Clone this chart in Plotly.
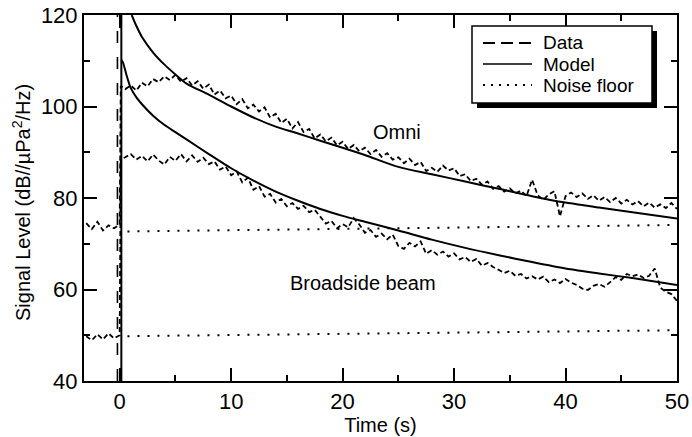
import plotly.graph_objects as go

# ---------------- data ----------------
data_t = [-3.0, -2.5, -2.0, -1.5, -1.0, -0.5, 0.0, 0.1,
          0.5, 1.0, 1.5, 2.0, 2.5, 3.0, 3.5, 4.0, 4.5, 5.0,
          5.5, 6.0, 6.5, 7.0, 7.5, 8.0, 8.5, 9.0, 9.5, 10.0,
          10.5, 11.0, 11.5, 12.0, 12.5, 13.0, 13.5, 14.0, 14.5, 15.0,
          15.5, 16.0, 16.5, 17.0, 17.5, 18.0, 18.5, 19.0, 19.5, 20.0,
          20.5, 21.0, 21.5, 22.0, 22.5, 23.0, 23.5, 24.0, 24.5, 25.0,
          25.5, 26.0, 26.5, 27.0, 27.5, 28.0, 28.5, 29.0, 29.5, 30.0,
          30.5, 31.0, 31.5, 32.0, 32.5, 33.0, 33.5, 34.0, 34.5, 35.0,
          35.5, 36.0, 36.5, 37.0, 37.5, 38.0, 38.5, 39.0, 39.5, 40.0,
          40.5, 41.0, 41.5, 42.0, 42.5, 43.0, 43.5, 44.0, 44.5, 45.0,
          45.5, 46.0, 46.5, 47.0, 47.5, 48.0, 48.5, 49.0, 49.5, 50.0]

omni_data = [74.5, 73.2, 74.8, 72.9, 74.0, 73.4, 74.2, 104.5,
             103.8, 104.6, 103.5, 105.2, 104.4, 106.0, 105.3, 106.6, 105.8, 106.9,
             105.4, 106.2, 104.6, 105.5, 103.9, 104.8, 102.6, 103.5, 101.8, 102.4,
             100.5, 101.6, 99.6, 100.4, 98.9, 99.8, 97.6, 98.4, 96.4, 97.3,
             95.2, 96.6, 94.4, 95.1, 93.0, 93.9, 92.4, 93.2, 91.5, 92.3,
             90.7, 91.6, 90.2, 91.0, 89.6, 90.5, 89.0, 89.8, 88.4, 88.9,
             87.6, 88.6, 87.2, 87.9, 85.9, 86.6, 85.7, 87.1, 86.0, 86.5,
             84.8, 85.2, 83.7, 84.2, 82.9, 83.6, 82.0, 82.6, 81.4, 82.1,
             81.0, 81.6, 80.4, 84.0, 80.6, 79.6, 80.8, 81.5, 76.0, 80.4,
             81.2, 80.2, 81.0, 79.8, 80.6, 79.4, 80.2, 79.1, 80.0, 78.8,
             79.6, 78.6, 79.3, 78.2, 79.0, 77.9, 78.6, 77.8, 78.9, 77.6]

broadside_data = [49.8, 48.9, 50.2, 49.1, 50.4, 49.3, 50.0, 88.5,
                  88.9, 89.6, 88.4, 89.2, 88.0, 89.5, 88.2, 87.3, 89.0, 88.1,
                  89.6, 88.0, 89.3, 87.9, 88.8, 87.4, 88.0, 86.2, 86.9, 85.0,
                  85.8, 83.4, 84.4, 81.8, 82.6, 80.3, 80.9, 79.0, 79.8, 78.2,
                  78.9, 77.6, 78.3, 76.9, 77.4, 75.8, 74.4, 75.0, 73.4, 74.3,
                  73.6, 75.6, 74.2, 72.4, 73.0, 71.5, 72.2, 71.0, 72.0, 69.5,
                  68.9, 70.2, 69.4, 70.5, 67.8, 68.6, 67.6, 68.3, 67.2, 67.9,
                  66.6, 67.1, 66.0, 66.7, 65.2, 65.8, 64.9, 64.3, 63.6, 64.1,
                  63.0, 63.4, 62.4, 62.9, 62.2, 62.8, 61.6, 62.2, 61.4, 62.3,
                  61.5, 61.0, 60.2, 59.9, 60.8, 61.2, 60.6, 61.6, 62.7, 62.1,
                  63.4, 62.9, 63.3, 62.5, 63.0, 64.6, 60.4, 59.5, 59.0, 57.5]

omni_model_t = [1.08, 1.5, 2, 3, 4, 5, 6, 8, 10, 12, 14, 16, 18, 20, 22,
                25, 28, 31, 34, 37, 40, 43, 46, 50]
omni_model = [120.0, 117.6, 115.2, 111.8, 109.2, 107.0, 105.0, 102.6, 100.0,
              97.6, 95.6, 94.1, 92.5, 91.0, 89.4, 86.8, 85.2, 83.6, 82.0,
              80.4, 79.0, 77.9, 76.9, 75.5]

broadside_model_t = [0.15, 0.3, 0.6, 1, 1.5, 2, 3, 4, 5, 6, 8, 10, 12, 14,
                     16, 18, 20, 22, 25, 28, 31, 34, 37, 40, 43, 46, 50]
broadside_model = [110.2, 109.6, 107.0, 104.0, 102.0, 100.5, 98.0, 96.0, 94.4,
                   92.8, 89.6, 86.5, 83.8, 81.4, 79.4, 77.6, 76.1, 74.8, 72.9,
                   70.9, 69.1, 67.5, 66.0, 64.6, 63.5, 62.5, 61.0]

noise_t = [0.7, 50.0]
omni_noise = [72.7, 74.1]
broadside_noise = [49.8, 51.1]

onset_model_t = 0.15
onset_data_t = -0.2

x_ticks = [0, 10, 20, 30, 40, 50]
y_ticks = [40, 60, 80, 100, 120]

FONT = "Liberation Sans, Arial, Helvetica, sans-serif"
BLACK = "#000000"

fig = go.Figure()

# data (dashed)
for ys in (omni_data, broadside_data):
    fig.add_trace(go.Scatter(x=data_t, y=ys, mode="lines", showlegend=False,
                             line=dict(color=BLACK, width=1.8, dash="5px,3px")))
# model (solid)
fig.add_trace(go.Scatter(x=omni_model_t, y=omni_model, mode="lines", showlegend=False,
                         line=dict(color=BLACK, width=2, shape="spline", smoothing=0.8)))
fig.add_trace(go.Scatter(x=broadside_model_t, y=broadside_model, mode="lines", showlegend=False,
                         line=dict(color=BLACK, width=2, shape="spline", smoothing=0.8)))
# noise floor (dotted)
for ys in (omni_noise, broadside_noise):
    fig.add_trace(go.Scatter(x=noise_t, y=ys, mode="lines", showlegend=False,
                             line=dict(color=BLACK, width=2, dash="2px,8px")))
# onset lines
fig.add_trace(go.Scatter(x=[onset_model_t, onset_model_t], y=[y_ticks[0], y_ticks[-1]],
                         mode="lines", showlegend=False, line=dict(color=BLACK, width=2)))
fig.add_trace(go.Scatter(x=[onset_data_t, onset_data_t], y=[y_ticks[0], y_ticks[-1]],
                         mode="lines", showlegend=False,
                         line=dict(color=BLACK, width=1.6, dash="12px,14px")))

# text labels
fig.add_annotation(x=24.9, y=94.5, text="Omni", showarrow=False,
                   font=dict(family=FONT, size=20, color=BLACK))
fig.add_annotation(x=21.8, y=61.5, text="Broadside beam", showarrow=False,
                   font=dict(family=FONT, size=20, color=BLACK))

# pixel -> paper helpers (pixel positions in the 692x437 window)
L, R, T, B = 84, 677, 15, 381
def px(x):
    return (x - L) / (R - L)
def py(y):
    return (B - y) / (B - T)

# y-axis title as a rotated annotation
fig.add_annotation(xref="paper", yref="paper", x=px(21), y=py(203),
                   text="Signal Level (dB//µPa<sup>2</sup>/Hz)", textangle=-90,
                   showarrow=False, xanchor="center", yanchor="middle",
                   font=dict(family=FONT, size=20, color=BLACK))

# manual legend
fig.add_shape(type="rect", xref="paper", yref="paper", layer="above",
              x0=px(477), x1=px(657), y0=py(108), y1=py(31),
              fillcolor=BLACK, line=dict(width=0))
fig.add_shape(type="rect", xref="paper", yref="paper", layer="above",
              x0=px(472), x1=px(652), y0=py(103), y1=py(26),
              fillcolor="white", line=dict(color=BLACK, width=1.5))
legend_items = [("Data", "12px,6px", 43), ("Model", "solid", 64), ("Noise floor", "2px,6px", 85)]
for label, dash, yy in legend_items:
    fig.add_shape(type="line", xref="paper", yref="paper", layer="above",
                  x0=px(483), x1=px(532), y0=py(yy), y1=py(yy),
                  line=dict(color=BLACK, width=2 if dash != "solid" else 1.6, dash=dash))
    fig.add_annotation(xref="paper", yref="paper", x=px(541), y=py(yy), text=label,
                       xanchor="left", yanchor="middle", showarrow=False,
                       font=dict(family=FONT, size=19, color=BLACK))

axis_common = dict(showgrid=False, zeroline=False, showline=True, linecolor=BLACK,
                   linewidth=2, mirror="allticks", ticks="inside", ticklen=13,
                   tickwidth=1.5, tickcolor=BLACK, automargin=False,
                   ticklabeloverflow="allow",
                   tickfont=dict(family=FONT, size=22, color=BLACK))

fig.update_xaxes(range=[-3.2, 50], tickvals=x_ticks,
                 minor=dict(dtick=5, tick0=0, ticks="inside", ticklen=6, tickwidth=1.5, tickcolor=BLACK),
                 title=dict(text="Time (s)", font=dict(family=FONT, size=20, color=BLACK), standoff=1),
                 **axis_common)
fig.update_yaxes(range=[40, 120], tickvals=y_ticks,
                 minor=dict(dtick=10, tick0=40, ticks="inside", ticklen=6, tickwidth=1.5, tickcolor=BLACK),
                 **axis_common)

fig.update_layout(width=692, height=437, margin=dict(l=84, r=15, t=15, b=56),
                  plot_bgcolor="white", paper_bgcolor="white", showlegend=False)

# remove the default 8px page margin so the figure fills the window exactly
fig.write_html("out.html", config={"displayModeBar": False},
               post_script="document.body.style.margin='0';document.body.style.overflow='hidden';")
